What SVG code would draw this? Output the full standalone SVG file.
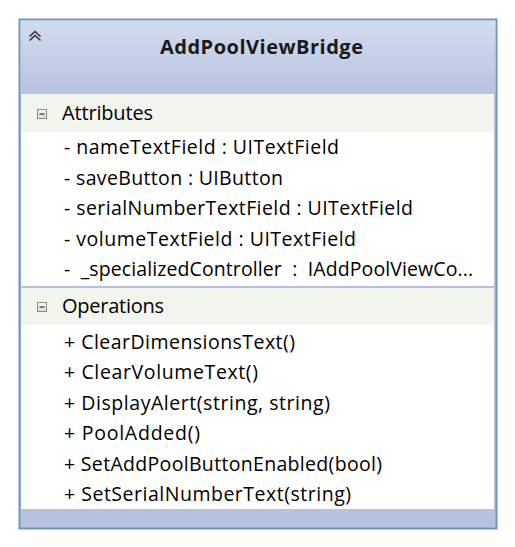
<svg xmlns="http://www.w3.org/2000/svg" width="515" height="547" viewBox="0 0 515 547">
<defs>
<linearGradient id="hdr" x1="0" y1="0" x2="0" y2="1">
<stop offset="0" stop-color="#d3dcef"/>
<stop offset="1" stop-color="#b7c2df"/>
</linearGradient>
<linearGradient id="tg" x1="0" y1="0" x2="0" y2="1">
<stop offset="0" stop-color="#fafafa"/>
<stop offset="1" stop-color="#d8d8d8"/>
</linearGradient>
</defs>
<style>
.t{font-family:"Open Sans","DejaVu Sans",sans-serif;font-size:19.5px;fill:#000}
.h{font-family:"Open Sans","DejaVu Sans",sans-serif;font-size:20px;fill:#000}
.b{font-family:"Open Sans","DejaVu Sans",sans-serif;font-size:20px;font-weight:bold;fill:#1a1a1a}
.band{fill:#f3f5ef}
.tog{fill:url(#tg);stroke:#8c8c8c;stroke-width:1}
.tm{stroke:#333;stroke-width:1.2}
</style>
<rect width="515" height="547" fill="#fff"/>
<g id="class-AddPoolViewBridge">
<rect x="19.5" y="19.5" width="477" height="509" fill="#b7c2df" stroke="#6f94cb" stroke-width="2"/>
<rect x="20.5" y="20.5" width="475" height="74" fill="url(#hdr)"/>
<path d="M29.5 36.5 l5.5-5 l5.5 5 M29.5 40.5 l5.5-5 l5.5 5" fill="none" stroke="#333" stroke-width="1.6"/>
<text class="b" x="160" y="54" textLength="203">AddPoolViewBridge</text>
<rect x="21" y="94" width="473" height="415" fill="#fff"/>
<g id="attributes">
<rect class="band" x="21" y="94" width="473" height="38"/>
<rect class="tog" x="37.5" y="109.5" width="9" height="9"/>
<line class="tm" x1="39.5" y1="114" x2="44.5" y2="114"/>
<text class="h" x="62" y="120" textLength="91">Attributes</text>
<text class="t" x="64" y="154" textLength="275">- nameTextField : UITextField</text>
<text class="t" x="64" y="184.5" textLength="219">- saveButton : UIButton</text>
<text class="t" x="64" y="215" textLength="349">- serialNumberTextField : UITextField</text>
<text class="t" x="64" y="245.5" textLength="292">- volumeTextField : UITextField</text>
<text class="t" x="64" y="276" textLength="409" xml:space="preserve">-  _specializedController  :  IAddPoolViewCo...</text>
</g>
<line x1="21" y1="287" x2="494" y2="287" stroke="#b7c2df" stroke-width="2"/>
<g id="operations">
<rect class="band" x="21" y="288" width="473" height="37"/>
<rect class="tog" x="37.5" y="302.5" width="9" height="9"/>
<line class="tm" x1="39.5" y1="307" x2="44.5" y2="307"/>
<text class="h" x="62" y="313" textLength="102">Operations</text>
<text class="t" x="64" y="348.5" textLength="231">+ ClearDimensionsText()</text>
<text class="t" x="64" y="379" textLength="194">+ ClearVolumeText()</text>
<text class="t" x="64" y="409.5" textLength="266">+ DisplayAlert(string, string)</text>
<text class="t" x="64" y="440" textLength="136">+ PoolAdded()</text>
<text class="t" x="64" y="470.5" textLength="318">+ SetAddPoolButtonEnabled(bool)</text>
<text class="t" x="64" y="501" textLength="287">+ SetSerialNumberText(string)</text>
</g>
</g>
<g id="connectors"/>
</svg>
